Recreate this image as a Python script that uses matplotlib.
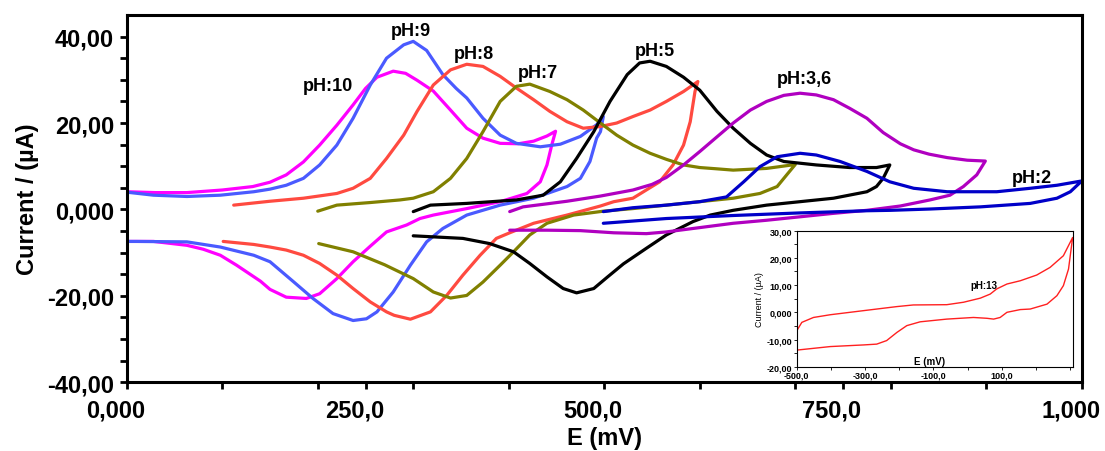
import matplotlib
matplotlib.use('Agg')
import matplotlib.pyplot as plt
import matplotlib.transforms as mtransforms
from matplotlib.ticker import FixedLocator

plt.rcParams['font.family'] = ['Liberation Sans', 'DejaVu Sans']
plt.rcParams['font.weight'] = 'bold'

# ---- data (E in mV, I in uA) ----
# each loop: forward (anodic) scan to the switching potential, then back
ph10_E = [0, 30, 63, 100, 132, 150, 167, 185, 202, 220, 237, 250, 262, 279, 292, 304, 321, 339, 356, 373, 391, 410, 426, 440, 449,
          445, 440, 433, 419, 391, 356, 321, 307, 293, 272, 255, 237, 220, 202, 188, 167, 150, 140, 115, 98, 80, 63, 28, 0]
ph10_I = [4.1, 3.9, 3.9, 4.5, 5.3, 6.3, 8.0, 11.0, 14.9, 19.5, 24.2, 28.0, 30.6, 32.0, 31.5, 29.9, 27.4, 23.0, 18.8, 16.5, 15.3, 15.2, 15.8, 17.0, 18.1,
          14.9, 10.3, 6.4, 3.7, 1.8, 0.2, -1.3, -2.1, -3.6, -5.2, -8.5, -12.1, -16.0, -19.5, -20.6, -20.3, -18.5, -16.6, -12.9, -10.6, -9.2, -8.3, -7.4, -7.4]

ph9_E = [0, 28, 63, 98, 133, 150, 167, 185, 202, 220, 237, 255, 272, 290, 300, 314, 331, 345, 356, 373, 391, 408, 433, 454, 475, 492, 499,
         496, 492, 485, 475, 461, 426, 391, 356, 331, 314, 297, 279, 262, 251, 237, 216, 195, 175, 150, 133, 98, 63, 10, 0]
ph9_I = [4.0, 3.3, 3.0, 3.3, 4.1, 4.7, 5.6, 7.2, 10.3, 14.9, 21.1, 28.8, 35.0, 38.1, 38.9, 36.8, 31.2, 28.0, 25.8, 21.1, 17.2, 15.3, 14.5, 15.1, 16.9, 19.6, 21.5,
         18.0, 16.5, 11.1, 7.2, 5.3, 2.6, 1.0, -1.3, -4.4, -7.5, -12.9, -19.1, -23.7, -25.3, -25.7, -24.1, -20.6, -16.8, -12.1, -10.6, -8.7, -7.5, -7.4, -7.4]

ph8_E = [112, 150, 185, 220, 237, 255, 272, 290, 304, 321, 339, 356, 373, 391, 408, 426, 443, 461, 478, 496, 513, 530, 548, 565, 583, 598,
         595, 590, 583, 572, 558, 530, 510, 496, 461, 426, 401, 387, 370, 352, 335, 318, 297, 280, 272, 255, 237, 220, 202, 185, 167, 150, 133, 101]
ph8_I = [1.0, 1.9, 2.6, 3.7, 4.9, 7.2, 11.8, 17.2, 22.7, 28.8, 32.3, 33.6, 33.1, 30.8, 28.1, 25.4, 22.7, 20.3, 18.8, 19.2, 20.0, 21.5, 23.0, 25.0, 27.3, 29.6,
         27.3, 20.3, 14.9, 10.3, 6.4, 2.6, 1.8, 0.8, -1.3, -3.2, -5.4, -6.7, -10.6, -15.2, -19.9, -23.7, -25.4, -24.5, -23.7, -21.4, -18.3, -15.2, -12.5, -10.6, -9.4, -8.7, -8.1, -7.4]

ph7_E = [200, 220, 255, 286, 300, 321, 328, 339, 356, 373, 391, 408, 422, 443, 461, 478, 496, 513, 530, 548, 565, 583, 600, 618, 635, 670, 700,
         691, 681, 663, 635, 600, 565, 530, 499, 468, 440, 422, 405, 391, 373, 356, 339, 321, 300, 270, 237, 201]
ph7_I = [-0.4, 1.0, 1.6, 2.2, 2.6, 4.1, 5.3, 7.2, 11.8, 18.0, 25.0, 28.5, 29.0, 27.3, 25.4, 23.0, 20.0, 17.2, 14.9, 13.0, 11.6, 10.3, 9.7, 9.4, 9.1, 9.5, 10.4,
         8.0, 5.3, 3.7, 2.6, 1.8, 1.0, 0.2, -0.4, -1.3, -3.2, -5.9, -9.8, -12.9, -16.8, -19.9, -20.5, -19.1, -16.0, -12.8, -9.8, -7.9]

ph5_E = [300, 318, 356, 408, 436, 454, 471, 489, 506, 524, 537, 548, 565, 583, 600, 618, 635, 653, 670, 688, 722, 757, 785, 799,
         792, 785, 775, 740, 705, 670, 635, 611, 593, 565, 544, 520, 503, 489, 471, 457, 440, 422, 405, 380, 352, 300]
ph5_I = [-0.5, 1.0, 1.4, 2.2, 3.3, 6.4, 11.8, 18.0, 25.0, 31.2, 33.9, 34.3, 33.1, 30.6, 27.6, 22.7, 18.8, 15.3, 12.6, 11.1, 10.3, 9.7, 9.7, 10.3,
         7.2, 5.3, 4.1, 2.6, 1.8, 1.0, -0.2, -1.3, -2.8, -5.9, -9.0, -12.6, -15.7, -18.3, -19.3, -18.3, -15.6, -12.5, -9.8, -7.9, -6.7, -6.1]

ph36_E = [401, 415, 440, 461, 496, 530, 550, 565, 583, 600, 618, 635, 653, 670, 688, 705, 722, 740, 757, 775, 792, 810, 824, 840, 859, 880, 899,
          890, 876, 862, 841, 810, 775, 740, 705, 670, 635, 600, 579, 565, 544, 510, 475, 440, 401]
ph36_I = [-0.5, 0.6, 1.3, 1.9, 3.1, 4.5, 5.8, 7.4, 10.3, 13.4, 16.8, 20.0, 23.0, 25.0, 26.4, 26.9, 26.5, 25.4, 23.4, 21.1, 17.8, 15.2, 13.8, 12.8, 12.0, 11.4, 11.2,
          8.0, 5.3, 3.3, 2.2, 0.8, -0.2, -0.9, -1.7, -2.5, -3.2, -4.2, -4.8, -5.2, -5.6, -5.4, -4.9, -4.8, -4.8]

ph2_E = [499, 530, 565, 600, 628, 646, 663, 681, 705, 722, 747, 775, 799, 824, 859, 911, 946, 974, 1000,
         988, 974, 946, 894, 841, 800, 775, 705, 635, 565, 499]
ph2_I = [-0.5, 0.4, 1.0, 1.8, 2.9, 6.4, 9.9, 12.2, 13.0, 12.6, 11.1, 8.8, 6.4, 4.9, 4.1, 4.1, 4.9, 5.6, 6.6,
         4.1, 2.6, 1.4, 0.6, 0.1, -0.2, -0.3, -0.8, -1.4, -2.1, -3.2]

# inset, pH 13
ph13_E = [-500, -485, -451, -402, -305, -207, -159, -61, -12, 37, 66, 85, 115, 154, 202, 241, 280, 307,
          295, 280, 261, 232, 183, 154, 115, 95, 76, 56, 17, -61, -139, -178, -207, -237, -266, -305, -402, -500]
ph13_I = [-6.8, -3.7, -1.9, -0.9, 0.6, 2.1, 2.7, 2.8, 3.7, 5.2, 6.7, 8.6, 10.4, 11.6, 13.7, 16.5, 20.8, 27.5,
          15.9, 9.8, 6.1, 3.0, 1.2, 1.0, 0.0, -1.9, -2.5, -2.2, -1.9, -2.5, -3.5, -4.9, -7.4, -10.4, -11.7, -12.0, -12.6, -13.9]

curves = [
    (ph10_E, ph10_I, '#ff00ff'),
    (ph9_E, ph9_I, '#4a5aff'),
    (ph8_E, ph8_I, '#ff4a40'),
    (ph7_E, ph7_I, '#808000'),
    (ph5_E, ph5_I, '#000000'),
    (ph36_E, ph36_I, '#b000c0'),
    (ph2_E, ph2_I, '#0000c8'),
]

labels = ['pH:10', 'pH:9', 'pH:8', 'pH:7', 'pH:5', 'pH:3,6', 'pH:2']
label_x = [211, 297, 363, 431, 553, 710, 948]
label_y = [28.8, 41.5, 36.2, 31.6, 36.9, 30.4, 7.4]

x_ticks = [0, 250, 500, 750, 1000]
x_ticklabels = ['0,000', '250,0', '500,0', '750,0', '1,000']
y_ticks = [-40, -20, 0, 20, 40]
y_ticklabels = ['-40,00', '-20,00', '0,000', '20,00', '40,00']

in_x_ticks = [-500, -300, -100, 100]
in_x_ticklabels = ['-500,0', '-300,0', '-100,0', '100,0']
in_y_ticks = [-20, -10, 0, 10, 20, 30]
in_y_ticklabels = ['-20,00', '-10,00', '0,000', '10,00', '20,00', '30,00']

# ---- figure ----
fig = plt.figure(figsize=(11.05, 4.52), dpi=100)
ax = fig.add_axes([0.1147, 0.152, 0.8643, 0.8126])

for E, I, col in curves:
    ax.plot(E, I, color=col, lw=2.3, solid_joinstyle='round', solid_capstyle='round')

for txt, tx, ty in zip(labels, label_x, label_y):
    ax.text(tx, ty, txt, fontsize=13, fontweight='bold', ha='center', va='center')

ax.set_xlim(0, 1000)
ax.set_ylim(-40, 45)
ax.set_xticks(x_ticks, x_ticklabels)
ax.set_yticks(y_ticks, y_ticklabels)
ax.xaxis.set_minor_locator(FixedLocator([100, 200, 300, 400, 600, 700, 800, 900]))
ax.yaxis.set_minor_locator(FixedLocator([v for v in range(-35, 45, 5) if v % 20 != 0]))
ax.tick_params(which='both', direction='out', length=5, width=2, labelsize=17, pad=4)
ax.tick_params(axis='x', pad=7)
for s in ax.spines.values():
    s.set_linewidth(2.2)
# the x tick labels sit a little left of their ticks in the original
shift = mtransforms.ScaledTranslation(-8 / 72, 0, fig.dpi_scale_trans)
for lab in ax.get_xticklabels():
    lab.set_transform(lab.get_transform() + shift)
ax.set_xlabel('E (mV)', fontsize=17, fontweight='bold', labelpad=3)
ax.set_ylabel('Current / (µA)', fontsize=17, fontweight='bold', labelpad=6)

# ---- inset ----
axin = fig.add_axes([0.721, 0.1865, 0.2497, 0.3009])
axin.set_facecolor('white')
axin.plot(ph13_E, ph13_I, color='#ff2020', lw=1.0)
axin.set_xlim(-500, 307)
axin.set_ylim(-20, 30)
axin.set_xticks(in_x_ticks, in_x_ticklabels)
axin.set_yticks(in_y_ticks, in_y_ticklabels)
axin.xaxis.set_minor_locator(FixedLocator([-400, -200, 0, 200, 300]))
axin.yaxis.set_minor_locator(FixedLocator([-15, -5, 5, 15, 25]))
axin.tick_params(which='both', direction='out', length=2, width=0.6, labelsize=6.5, pad=1)
for s in axin.spines.values():
    s.set_linewidth(0.8)
axin.text(0.48, 0.045, 'E (mV)', transform=axin.transAxes, fontsize=7, ha='center', va='center')
axin.text(0.68, 0.6, 'pH:13', transform=axin.transAxes, fontsize=7, ha='center', va='center')
axin.set_ylabel('Current / (µA)', fontsize=6.5, labelpad=2)

fig.savefig('out.png', dpi=100)
